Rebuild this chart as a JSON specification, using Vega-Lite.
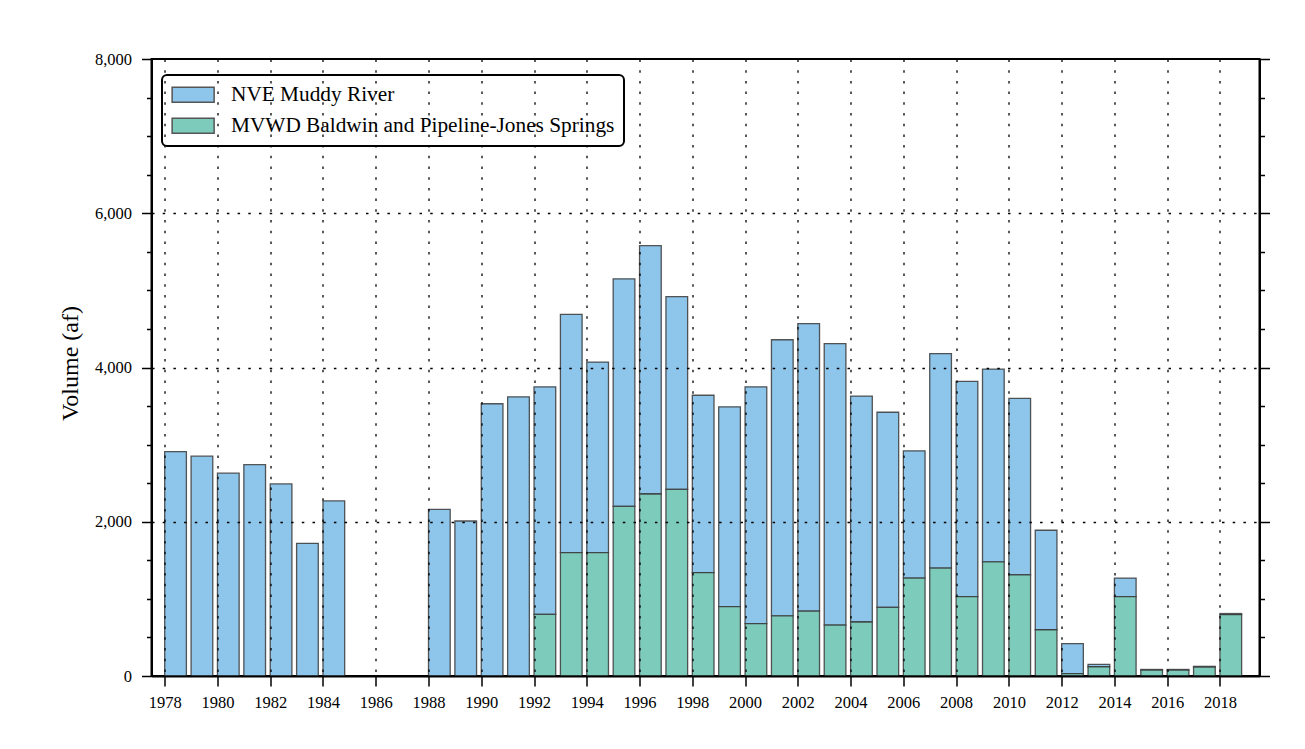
{
  "$schema": "https://vega.github.io/schema/vega-lite/v6.json",
  "width": 1108,
  "height": 617,
  "autosize": {"type": "none"},
  "padding": {"left": 151.5, "top": 59, "right": 45.5, "bottom": 73},
  "background": "white",
  "config": {
    "view": {"stroke": "black", "strokeWidth": 2},
    "font": "Liberation Serif",
    "legend": {"strokeWidth": 2}
  },
  "data": {
    "values": [
      {"year": 1978, "source": "NVE Muddy River", "volume": 2910},
      {"year": 1979, "source": "NVE Muddy River", "volume": 2850},
      {"year": 1980, "source": "NVE Muddy River", "volume": 2630},
      {"year": 1981, "source": "NVE Muddy River", "volume": 2740},
      {"year": 1982, "source": "NVE Muddy River", "volume": 2490},
      {"year": 1983, "source": "NVE Muddy River", "volume": 1720},
      {"year": 1984, "source": "NVE Muddy River", "volume": 2270},
      {"year": 1988, "source": "NVE Muddy River", "volume": 2160},
      {"year": 1989, "source": "NVE Muddy River", "volume": 2010},
      {"year": 1990, "source": "NVE Muddy River", "volume": 3530},
      {"year": 1991, "source": "NVE Muddy River", "volume": 3620},
      {"year": 1992, "source": "NVE Muddy River", "volume": 2950},
      {"year": 1993, "source": "NVE Muddy River", "volume": 3090},
      {"year": 1994, "source": "NVE Muddy River", "volume": 2470},
      {"year": 1995, "source": "NVE Muddy River", "volume": 2950},
      {"year": 1996, "source": "NVE Muddy River", "volume": 3220},
      {"year": 1997, "source": "NVE Muddy River", "volume": 2500},
      {"year": 1998, "source": "NVE Muddy River", "volume": 2300},
      {"year": 1999, "source": "NVE Muddy River", "volume": 2590},
      {"year": 2000, "source": "NVE Muddy River", "volume": 3070},
      {"year": 2001, "source": "NVE Muddy River", "volume": 3580},
      {"year": 2002, "source": "NVE Muddy River", "volume": 3730},
      {"year": 2003, "source": "NVE Muddy River", "volume": 3650},
      {"year": 2004, "source": "NVE Muddy River", "volume": 2930},
      {"year": 2005, "source": "NVE Muddy River", "volume": 2530},
      {"year": 2006, "source": "NVE Muddy River", "volume": 1650},
      {"year": 2007, "source": "NVE Muddy River", "volume": 2780},
      {"year": 2008, "source": "NVE Muddy River", "volume": 2790},
      {"year": 2009, "source": "NVE Muddy River", "volume": 2500},
      {"year": 2010, "source": "NVE Muddy River", "volume": 2290},
      {"year": 2011, "source": "NVE Muddy River", "volume": 1290},
      {"year": 2012, "source": "NVE Muddy River", "volume": 390},
      {"year": 2013, "source": "NVE Muddy River", "volume": 30},
      {"year": 2014, "source": "NVE Muddy River", "volume": 240},
      {"year": 2015, "source": "NVE Muddy River", "volume": 10},
      {"year": 2016, "source": "NVE Muddy River", "volume": 10},
      {"year": 2017, "source": "NVE Muddy River", "volume": 10},
      {"year": 2018, "source": "NVE Muddy River", "volume": 15},
      {"year": 1992, "source": "MVWD Baldwin and Pipeline-Jones Springs", "volume": 800},
      {"year": 1993, "source": "MVWD Baldwin and Pipeline-Jones Springs", "volume": 1600},
      {"year": 1994, "source": "MVWD Baldwin and Pipeline-Jones Springs", "volume": 1600},
      {"year": 1995, "source": "MVWD Baldwin and Pipeline-Jones Springs", "volume": 2200},
      {"year": 1996, "source": "MVWD Baldwin and Pipeline-Jones Springs", "volume": 2360},
      {"year": 1997, "source": "MVWD Baldwin and Pipeline-Jones Springs", "volume": 2420},
      {"year": 1998, "source": "MVWD Baldwin and Pipeline-Jones Springs", "volume": 1340},
      {"year": 1999, "source": "MVWD Baldwin and Pipeline-Jones Springs", "volume": 900},
      {"year": 2000, "source": "MVWD Baldwin and Pipeline-Jones Springs", "volume": 680},
      {"year": 2001, "source": "MVWD Baldwin and Pipeline-Jones Springs", "volume": 780},
      {"year": 2002, "source": "MVWD Baldwin and Pipeline-Jones Springs", "volume": 840},
      {"year": 2003, "source": "MVWD Baldwin and Pipeline-Jones Springs", "volume": 660},
      {"year": 2004, "source": "MVWD Baldwin and Pipeline-Jones Springs", "volume": 700},
      {"year": 2005, "source": "MVWD Baldwin and Pipeline-Jones Springs", "volume": 890},
      {"year": 2006, "source": "MVWD Baldwin and Pipeline-Jones Springs", "volume": 1270},
      {"year": 2007, "source": "MVWD Baldwin and Pipeline-Jones Springs", "volume": 1400},
      {"year": 2008, "source": "MVWD Baldwin and Pipeline-Jones Springs", "volume": 1030},
      {"year": 2009, "source": "MVWD Baldwin and Pipeline-Jones Springs", "volume": 1480},
      {"year": 2010, "source": "MVWD Baldwin and Pipeline-Jones Springs", "volume": 1310},
      {"year": 2011, "source": "MVWD Baldwin and Pipeline-Jones Springs", "volume": 600},
      {"year": 2012, "source": "MVWD Baldwin and Pipeline-Jones Springs", "volume": 30},
      {"year": 2013, "source": "MVWD Baldwin and Pipeline-Jones Springs", "volume": 120},
      {"year": 2014, "source": "MVWD Baldwin and Pipeline-Jones Springs", "volume": 1030},
      {"year": 2015, "source": "MVWD Baldwin and Pipeline-Jones Springs", "volume": 75},
      {"year": 2016, "source": "MVWD Baldwin and Pipeline-Jones Springs", "volume": 75},
      {"year": 2017, "source": "MVWD Baldwin and Pipeline-Jones Springs", "volume": 115},
      {"year": 2018, "source": "MVWD Baldwin and Pipeline-Jones Springs", "volume": 795}
    ]
  },
  "layer": [
    {
      "mark": {"type": "bar", "width": 21.7, "xOffset": 10.85, "stroke": "#3a3a3a", "strokeWidth": 1.3, "strokeOpacity": 0.85},
      "encoding": {
        "x": {
          "field": "year", "type": "quantitative",
          "scale": {"domain": [1977.5, 2019.5], "nice": false, "zero": false, "padding": 0},
          "axis": {
            "values": [1978,1979,1980,1981,1982,1983,1984,1985,1986,1987,1988,1989,1990,1991,1992,1993,1994,1995,1996,1997,1998,1999,2000,2001,2002,2003,2004,2005,2006,2007,2008,2009,2010,2011,2012,2013,2014,2015,2016,2017,2018,2019],
            "labelExpr": "datum.value % 2 === 0 ? format(datum.value, 'd') : ''",
            "title": null,
            "tickSize": {"condition": {"test": "datum.value % 2 === 0", "value": 10}, "value": 6},
            "tickColor": "black", "tickWidth": 1.5,
            "domainColor": "black", "domainWidth": 2,
            "grid": true,
            "gridOpacity": {"condition": {"test": "datum.value % 2 === 0", "value": 1}, "value": 0},
            "gridColor": "black", "gridWidth": 1.3, "gridDash": [2.5, 8.2],
            "labelFont": "Liberation Serif", "labelFontSize": 16.5, "labelColor": "black",
            "labelPadding": 8, "labelFlush": false, "labelOverlap": false,
            "zindex": 1
          }
        },
        "y": {
          "field": "volume", "type": "quantitative", "stack": "zero",
          "scale": {"domain": [0, 8000], "nice": false},
          "axis": {
            "values": [0,500,1000,1500,2000,2500,3000,3500,4000,4500,5000,5500,6000,6500,7000,7500,8000],
            "labelExpr": "datum.value % 2000 === 0 ? format(datum.value, ',') : ''",
            "title": "Volume (af)",
            "titleFont": "Liberation Serif", "titleFontSize": 24, "titleFontWeight": "normal", "titleColor": "black",
            "titleX": -81, "titleY": 304, "titleBaseline": "middle",
            "tickSize": {"condition": {"test": "datum.value % 2000 === 0", "value": 10}, "value": 5},
            "tickColor": "black", "tickWidth": 1.5,
            "domainColor": "black", "domainWidth": 2,
            "grid": true,
            "gridOpacity": {"condition": {"test": "datum.value % 2000 === 0 && datum.value > 0 && datum.value < 8000", "value": 1}, "value": 0},
            "gridColor": "black", "gridWidth": 1.3, "gridDash": [2.5, 8.2],
            "labelFont": "Liberation Serif", "labelFontSize": 16.5, "labelColor": "black",
            "labelPadding": 10, "labelOverlap": false,
            "zindex": 1
          }
        },
        "color": {
          "field": "source", "type": "nominal",
          "scale": {"domain": ["NVE Muddy River", "MVWD Baldwin and Pipeline-Jones Springs"], "range": ["#8ec5ea", "#7dcbbb"]},
          "legend": {
            "title": null, "orient": "none", "legendX": 10.5, "legendY": 16, "direction": "vertical",
            "symbolType": "M-1.27,-1L4.33,-1L4.33,1L-1.27,1Z", "symbolSize": 225,
            "symbolStrokeColor": "#555555", "symbolStrokeWidth": 1.5, "symbolOpacity": 1,
            "labelFont": "Liberation Serif", "labelFontSize": 21.3, "labelColor": "black", "labelOffset": 38.7, "labelLimit": 0,
            "rowPadding": 8, "padding": 9,
            "strokeColor": "black", "cornerRadius": 5, "fillColor": "white"
          }
        },
        "order": {"field": "source", "sort": "ascending"}
      }
    },
    {
      "mark": {"type": "bar", "width": 21.7, "xOffset": 10.85, "opacity": 0},
      "encoding": {
        "x": {"field": "year", "type": "quantitative"},
        "y": {
          "field": "volume", "type": "quantitative", "stack": "zero",
          "axis": {
            "orient": "right",
            "values": [0,500,1000,1500,2000,2500,3000,3500,4000,4500,5000,5500,6000,6500,7000,7500,8000],
            "labels": false, "title": null, "grid": false,
            "tickSize": {"condition": {"test": "datum.value % 2000 === 0", "value": 10}, "value": 5},
            "tickColor": "black", "tickWidth": 1.5,
            "domainColor": "black", "domainWidth": 2,
            "zindex": 1
          }
        },
        "order": {"field": "source", "sort": "ascending"}
      }
    }
  ],
  "resolve": {"axis": {"y": "independent"}}
}
